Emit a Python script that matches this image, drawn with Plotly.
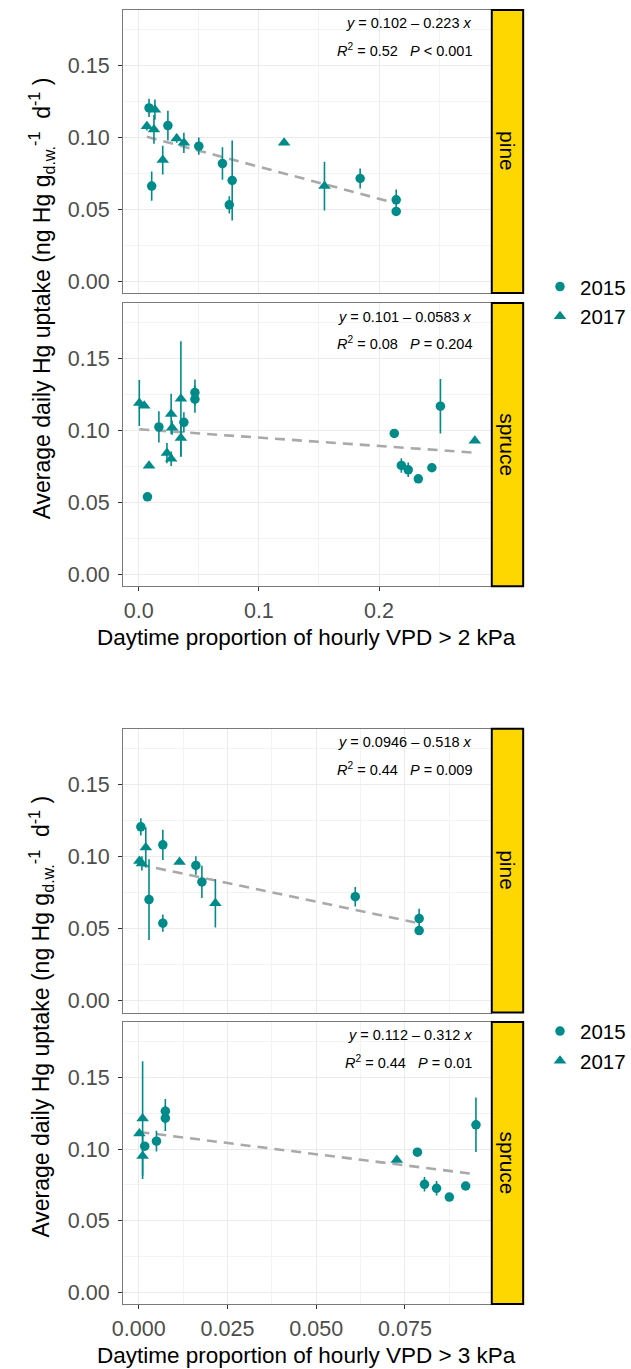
import plotly.graph_objects as go

# ---------------- data ----------------
# Figure A: daytime proportion of hourly VPD > 2 kPa
pine2_2015_x = [0.0086, 0.0108, 0.0243, 0.0500, 0.0697, 0.0778, 0.0754, 0.1843, 0.2143, 0.2143]
pine2_2015_y = [0.1206, 0.0662, 0.1083, 0.0940, 0.0819, 0.0701, 0.0532, 0.0715, 0.0567, 0.0486]
pine2_2015_e = [0.0064, 0.0102, 0.0104, 0.0060, 0.0113, 0.0278, 0.0060, 0.0070, 0.0072, 0.0]
pine2_2017_x = [0.0068, 0.0135, 0.0127, 0.0200, 0.0316, 0.0376, 0.1210, 0.1546]
pine2_2017_y = [0.1079, 0.1194, 0.1056, 0.0843, 0.0993, 0.0963, 0.0963, 0.0662]
pine2_2017_e = [0.0030, 0.0070, 0.0100, 0.0100, 0.0030, 0.0070, 0.0, 0.0170]

spruce2_2015_x = [0.0073, 0.0168, 0.0376, 0.0468, 0.0468, 0.2127, 0.2186, 0.2243, 0.2327, 0.2440, 0.2511]
spruce2_2015_y = [0.0540, 0.1026, 0.1058, 0.1265, 0.1219, 0.0981, 0.0758, 0.0728, 0.0665, 0.0742, 0.1170]
spruce2_2015_e = [0.0, 0.0109, 0.0070, 0.0090, 0.0095, 0.0, 0.0050, 0.0050, 0.0, 0.0, 0.0190]
spruce2_2017_x = [0.0005, 0.0046, 0.0086, 0.0235, 0.0270, 0.0270, 0.0278, 0.0351, 0.0351, 0.2797]
spruce2_2017_y = [0.1193, 0.1174, 0.0756, 0.0844, 0.0805, 0.1116, 0.1021, 0.1221, 0.0949, 0.0930]
spruce2_2017_e = [0.0160, 0.0, 0.0, 0.0070, 0.0050, 0.0140, 0.0050, 0.0400, 0.0130, 0.0]

# Figure B: daytime proportion of hourly VPD > 3 kPa
pine3_2015_x = [0.0006, 0.0029, 0.0068, 0.0068, 0.0161, 0.0178, 0.0610, 0.0790, 0.0790]
pine3_2015_y = [0.1207, 0.0702, 0.1082, 0.0538, 0.0939, 0.0824, 0.0722, 0.0570, 0.0487]
pine3_2015_e = [0.0060, 0.0280, 0.0105, 0.0060, 0.0064, 0.0112, 0.0068, 0.0068, 0.0]
pine3_2017_x = [0.0002, 0.0009, 0.0020, 0.0115, 0.0216]
pine3_2017_y = [0.0969, 0.0953, 0.1064, 0.0962, 0.0676]
pine3_2017_e = [0.0030, 0.0050, 0.0140, 0.0, 0.0167]

spruce3_2015_x = [0.0017, 0.0050, 0.0075, 0.0075, 0.0785, 0.0805, 0.0839, 0.0875, 0.0921, 0.0950]
spruce3_2015_y = [0.1020, 0.1055, 0.1264, 0.1215, 0.0978, 0.0754, 0.0726, 0.0665, 0.0742, 0.1169]
spruce3_2015_e = [0.0, 0.0073, 0.0085, 0.0090, 0.0, 0.0050, 0.0050, 0.0, 0.0, 0.0190]
spruce3_2017_x = [0.0002, 0.0011, 0.0011, 0.0727]
spruce3_2017_y = [0.1108, 0.1213, 0.0951, 0.0923]
spruce3_2017_e = [0.0, 0.0400, 0.0160, 0.0]

# regression fits (intercept, slope) and labels
fit_intercepts = [0.102, 0.101, 0.0946, 0.112]
fit_slopes = [-0.223, -0.0583, -0.518, -0.312]
eq_labels = ["<i>y</i> = 0.102 \u2013 0.223 <i>x</i>",
             "<i>y</i> = 0.101 \u2013 0.0583 <i>x</i>",
             "<i>y</i> = 0.0946 \u2013 0.518 <i>x</i>",
             "<i>y</i> = 0.112 \u2013 0.312 <i>x</i>"]
stat_labels = ["<i>R</i><sup>2</sup> = 0.52   <i>P</i> < 0.001",
               "<i>R</i><sup>2</sup> = 0.08   <i>P</i> = 0.204",
               "<i>R</i><sup>2</sup> = 0.44   <i>P</i> = 0.009",
               "<i>R</i><sup>2</sup> = 0.44   <i>P</i> = 0.01"]
facet_labels = ["pine", "spruce", "pine", "spruce"]
years = ["2015", "2017"]
x_titles = ["Daytime proportion of hourly VPD > 2 kPa", "Daytime proportion of hourly VPD > 3 kPa"]
y_title = ("Average daily Hg uptake (ng Hg g<sub>d.w.</sub><sup>-1</sup>"
           "\u00a0\u00a0d<sup>-1</sup>\u00a0)")

panels_data = [
    (pine2_2015_x, pine2_2015_y, pine2_2015_e, pine2_2017_x, pine2_2017_y, pine2_2017_e),
    (spruce2_2015_x, spruce2_2015_y, spruce2_2015_e, spruce2_2017_x, spruce2_2017_y, spruce2_2017_e),
    (pine3_2015_x, pine3_2015_y, pine3_2015_e, pine3_2017_x, pine3_2017_y, pine3_2017_e),
    (spruce3_2015_x, spruce3_2015_y, spruce3_2015_e, spruce3_2017_x, spruce3_2017_y, spruce3_2017_e),
]

# ---------------- layout geometry (pixels) ----------------
W, H = 631, 1369
def fx(px):
    return px / W
def fy(py):
    return 1 - py / H

panel_px = [(115, 492, 10, 293.3), (115, 492, 303.3, 586.7),
            (115, 492, 729.3, 1013.3), (115, 492, 1022.7, 1305)]
x_ranges = [[-0.0130, 0.2928], [-0.0130, 0.2928], [-0.0044, 0.0991], [-0.0044, 0.0991]]
y_range = [-0.0082, 0.1887]
strip_x = (493.3, 525.5)

TEAL = "#008B8B"
FONT = "Liberation Sans, Arial, sans-serif"

fig = go.Figure()

for i, (x15, y15, e15, x17, y17, e17) in enumerate(panels_data):
    xa = "x" if i == 0 else f"x{i+1}"
    ya = "y" if i == 0 else f"y{i+1}"
    legend_name = "legend" if i < 2 else "legend2"
    show_leg = (i % 2 == 0)
    allx = x15 + x17
    xs = [min(allx), max(allx)]
    ys = [fit_intercepts[i] + fit_slopes[i] * v for v in xs]
    fig.add_trace(go.Scatter(x=xs, y=ys, mode="lines", xaxis=xa, yaxis=ya,
                             line=dict(color="#A9A9A9", width=2.6, dash="10px,7px"),
                             showlegend=False, hoverinfo="skip"))
    fig.add_trace(go.Scatter(x=x15, y=y15, mode="markers", xaxis=xa, yaxis=ya, name=years[0],
                             marker=dict(symbol="circle", size=9.5, color=TEAL),
                             error_y=dict(type="data", array=e15, visible=True, color=TEAL,
                                          thickness=1.6, width=0),
                             showlegend=show_leg, legend=legend_name))
    fig.add_trace(go.Scatter(x=x17, y=y17, mode="markers", xaxis=xa, yaxis=ya, name=years[1],
                             marker=dict(symbol="triangle-up", size=11, color=TEAL),
                             error_y=dict(type="data", array=e17, visible=True, color=TEAL,
                                          thickness=1.6, width=0),
                             showlegend=show_leg, legend=legend_name))

layout = dict(
    width=W, height=H, autosize=False,
    margin=dict(l=0, r=0, t=0, b=0),
    paper_bgcolor="white", plot_bgcolor="white",
    font=dict(family=FONT, size=20, color="black"),
    showlegend=True,
)

TICK_FONT = dict(size=21.5, color="#4D4D4D", family=FONT)
shapes = []
annotations = []
for i, (x0, x1, y0, y1) in enumerate(panel_px):
    xk = "xaxis" if i == 0 else f"xaxis{i+1}"
    yk = "yaxis" if i == 0 else f"yaxis{i+1}"
    ya = "y" if i == 0 else f"y{i+1}"
    xa = "x" if i == 0 else f"x{i+1}"
    bottom = (i % 2 == 1)
    top_fig = i < 2
    layout[xk] = dict(
        domain=[fx(x0), fx(x1)], anchor=ya, range=x_ranges[i],
        tick0=0, dtick=0.1 if top_fig else 0.025,
        tickformat=".1f" if top_fig else ".3f",
        showticklabels=bottom, ticks="outside" if bottom else "",
        ticklen=4, tickwidth=1, tickcolor="#333333",
        tickfont=TICK_FONT, ticklabelstandoff=1,
        showgrid=True, gridcolor="#EBEBEB", gridwidth=1.2,
        minor=dict(dtick=0.05 if top_fig else 0.0125, tick0=0, showgrid=True,
                   gridcolor="#F3F3F3", gridwidth=0.8),
        zeroline=False, showline=True, mirror=True, linecolor="#7A7A7A", linewidth=1.3,
        fixedrange=True,
    )
    layout[yk] = dict(
        domain=[fy(y1), fy(y0)], anchor=xa, range=y_range,
        tick0=0, dtick=0.05, tickformat=".2f",
        ticks="outside", ticklen=4, tickwidth=1, tickcolor="#333333",
        tickfont=TICK_FONT, ticklabelstandoff=4,
        showgrid=True, gridcolor="#EBEBEB", gridwidth=1.2,
        minor=dict(dtick=0.025, tick0=0, showgrid=True, gridcolor="#F3F3F3", gridwidth=0.8),
        zeroline=False, showline=True, mirror=True, linecolor="#7A7A7A", linewidth=1.3,
        fixedrange=True,
    )
    shapes.append(dict(type="rect", xref="paper", yref="paper",
                       x0=fx(strip_x[0]), x1=fx(strip_x[1]), y0=fy(y1), y1=fy(y0),
                       fillcolor="#FFD700", line=dict(color="black", width=2), layer="above"))
    annotations.append(dict(xref="paper", yref="paper", x=fx((strip_x[0] + strip_x[1]) / 2),
                            y=fy((y0 + y1) / 2), text=facet_labels[i], showarrow=False,
                            textangle=90, font=dict(size=21, color="black", family=FONT),
                            xanchor="center", yanchor="middle"))
    annotations.append(dict(xref="paper", yref="paper", x=fx(475), y=fy(y0 + 13.5),
                            text=eq_labels[i], showarrow=False, xanchor="right", yanchor="middle",
                            font=dict(size=14.5, color="black", family=FONT)))
    annotations.append(dict(xref="paper", yref="paper", x=fx(475), y=fy(y0 + 40),
                            text=stat_labels[i], showarrow=False, xanchor="right", yanchor="middle",
                            font=dict(size=14.5, color="black", family=FONT)))

for k, (ptop, pbot) in enumerate([(10, 586.7), (729.3, 1305)]):
    annotations.append(dict(xref="paper", yref="paper", x=fx(303.5), y=fy(pbot + 51),
                            text=x_titles[k], showarrow=False, xanchor="center", yanchor="middle",
                            font=dict(size=22.5, color="black", family=FONT)))
    annotations.append(dict(xref="paper", yref="paper", x=fx(31), y=fy((ptop + pbot) / 2),
                            text=y_title, showarrow=False, textangle=-90,
                            xanchor="center", yanchor="middle",
                            font=dict(size=23, color="black", family=FONT)))

layout["shapes"] = shapes
layout["annotations"] = annotations
layout["legend"] = dict(x=fx(543), y=fy(302), xanchor="left", yanchor="middle",
                        font=dict(size=20.5, family=FONT, color="black"),
                        bgcolor="rgba(0,0,0,0)", borderwidth=0, tracegroupgap=0)
layout["legend2"] = dict(x=fx(543), y=fy(1047), xanchor="left", yanchor="middle",
                         font=dict(size=20.5, family=FONT, color="black"),
                         bgcolor="rgba(0,0,0,0)", borderwidth=0, tracegroupgap=0)

fig.update_layout(**layout)
fig.write_html("out.html")
